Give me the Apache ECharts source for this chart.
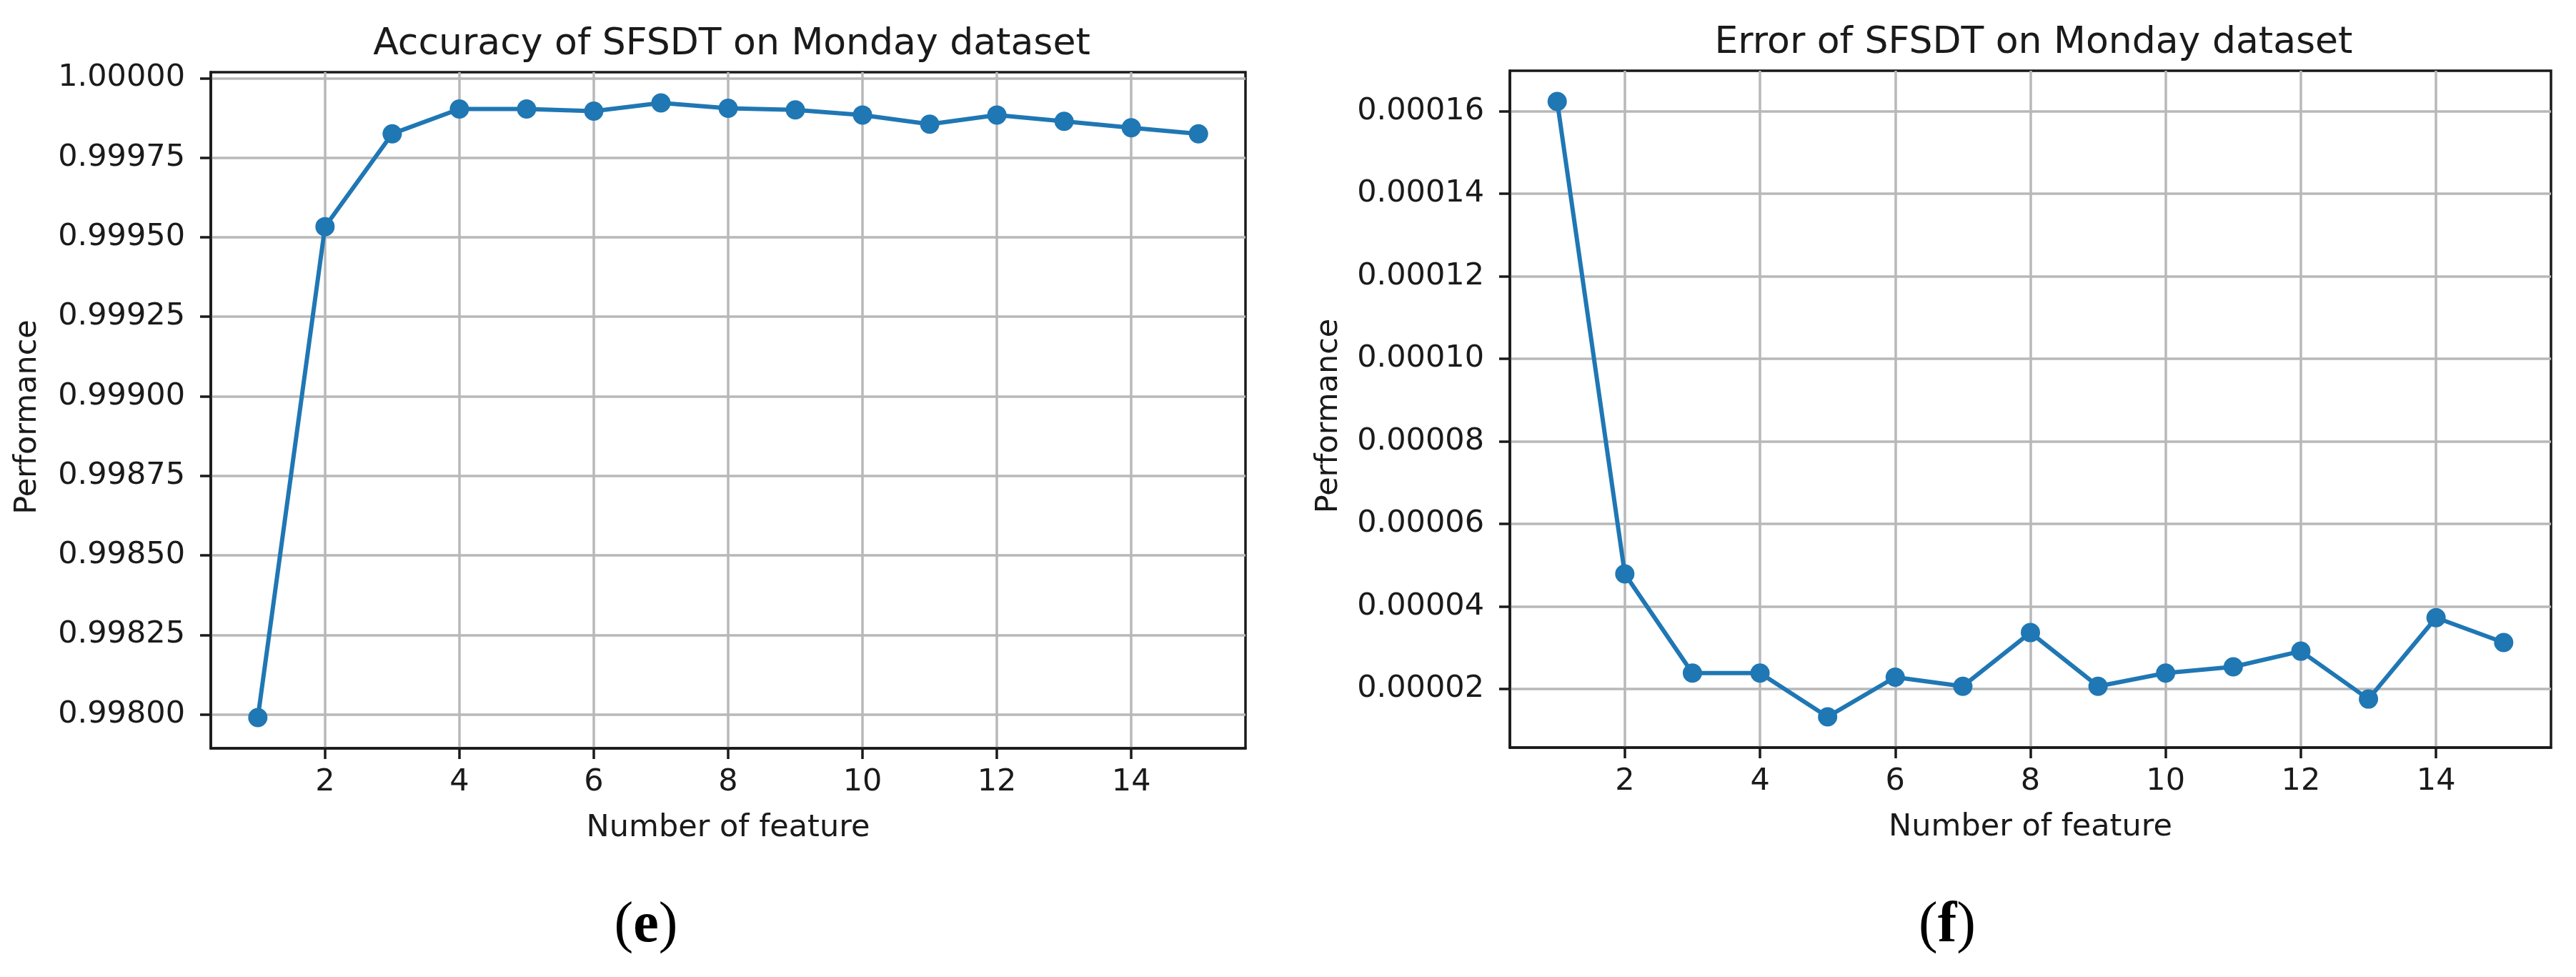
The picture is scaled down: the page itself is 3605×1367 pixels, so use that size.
<!DOCTYPE html>
<html>
<head>
<meta charset="utf-8">
<script src="https://cdn.jsdelivr.net/npm/echarts@6/dist/echarts.min.js"></script>
<style>
html,body{margin:0;padding:0;background:#ffffff;}
#chart{width:3605px;height:1367px;}
</style>
</head>
<body>
<div id="chart"></div>
<script>
// ---- data ----
const features = [1, 2, 3, 4, 5, 6, 7, 8, 9, 10, 11, 12, 13, 14, 15];
const accuracy = [0.99799, 0.999533, 0.999825, 0.999903, 0.999903, 0.999896, 0.999922, 0.999905, 0.999900, 0.999884, 0.999855, 0.999884, 0.999864, 0.999844, 0.999825];
const errorRate = [0.0001623, 0.0000479, 0.0000239, 0.0000239, 0.0000133, 0.0000229, 0.0000207, 0.0000337, 0.0000207, 0.0000239, 0.0000254, 0.0000292, 0.0000176, 0.0000373, 0.0000313];
const accTicks = [0.998, 0.99825, 0.9985, 0.99875, 0.999, 0.99925, 0.9995, 0.99975, 1.0];
const errTicks = [0.00002, 0.00004, 0.00006, 0.00008, 0.00010, 0.00012, 0.00014, 0.00016];
const featureTicks = [2, 4, 6, 8, 10, 12, 14];
const titles = ['Accuracy of SFSDT on Monday dataset', 'Error of SFSDT on Monday dataset'];
const xName = 'Number of feature';
const yName = 'Performance';
const panelLetters = ['e', 'f'];

// matplotlib-like 5% autoscale margins
function limits(arr) {
  const lo = Math.min(...arr), hi = Math.max(...arr), r = hi - lo;
  return [lo - 0.05 * r, hi + 0.05 * r];
}
const xLim = limits(features);
const accLim = limits(accuracy);
const errLim = limits(errorRate);

const FONT = 'DejaVu Sans';
const INK = '#1a1a1a';
const BLUE = '#1f77b4';

function xAxisOf(gi) {
  return {
    type: 'value', gridIndex: gi, min: xLim[0], max: xLim[1],
    name: xName, nameLocation: 'middle', nameGap: 90,
    nameTextStyle: {fontFamily: FONT, fontSize: 43, color: INK, lineHeight: 43},
    axisLine: {show: true, onZero: false, lineStyle: {color: INK, width: 3.5}},
    axisTick: {show: true, length: 15, inside: false, lineStyle: {color: INK, width: 3.5}, customValues: featureTicks},
    axisLabel: {show: true, margin: 26, fontFamily: FONT, fontSize: 43, color: INK, lineHeight: 43, customValues: featureTicks,
      formatter: v => String(Math.round(v))},
    splitLine: {show: true, lineStyle: {color: '#b8b8b8', width: 3.5}, customValues: featureTicks}
  };
}
function yAxisOf(gi, lim, ticks, gap) {
  return {
    type: 'value', gridIndex: gi, min: lim[0], max: lim[1], scale: true,
    name: yName, nameLocation: 'middle', nameGap: gap, nameRotate: 90,
    nameTextStyle: {fontFamily: FONT, fontSize: 43, color: INK, lineHeight: 43, padding: [0, 19, 0, 0]},
    axisLine: {show: true, onZero: false, lineStyle: {color: INK, width: 3.5}},
    axisTick: {show: true, length: 15, inside: false, lineStyle: {color: INK, width: 3.5}, customValues: ticks},
    axisLabel: {show: true, margin: 36, fontFamily: FONT, fontSize: 43, color: INK, lineHeight: 43, customValues: ticks,
      formatter: v => v.toFixed(5)},
    splitLine: {show: true, lineStyle: {color: '#b8b8b8', width: 3.5}, customValues: ticks}
  };
}
function seriesOf(gi, vals) {
  return {
    type: 'line', xAxisIndex: gi, yAxisIndex: gi,
    data: features.map((f, i) => [f, vals[i]]),
    symbol: 'circle', symbolSize: 27, showSymbol: true,
    lineStyle: {color: BLUE, width: 6},
    itemStyle: {color: BLUE, borderWidth: 0},
    emphasis: {disabled: true}, animation: false, z: 5
  };
}

const chart = echarts.init(document.getElementById('chart'), null, {renderer: 'canvas'});
chart.setOption({
  backgroundColor: '#ffffff',
  animation: false,
  title: [
    {text: titles[0], left: 1019, top: 31, textAlign: 'center',
      textStyle: {fontFamily: FONT, fontSize: 52, fontWeight: 'normal', color: INK, lineHeight: 52}},
    {text: titles[1], left: 2841, top: 29, textAlign: 'center',
      textStyle: {fontFamily: FONT, fontSize: 52, fontWeight: 'normal', color: INK, lineHeight: 52}},
    {text: '({b|' + panelLetters[0] + '})', left: 899, top: 1251, textAlign: 'center',
      textStyle: {fontFamily: 'Liberation Serif', fontSize: 80, fontWeight: 'normal', color: '#000', lineHeight: 80,
        rich: {b: {fontFamily: 'Liberation Serif', fontSize: 80, fontWeight: 'bold', color: '#000', lineHeight: 80}}}},
    {text: '({b|' + panelLetters[1] + '})', left: 2720, top: 1251, textAlign: 'center',
      textStyle: {fontFamily: 'Liberation Serif', fontSize: 80, fontWeight: 'normal', color: '#000', lineHeight: 80,
        rich: {b: {fontFamily: 'Liberation Serif', fontSize: 80, fontWeight: 'bold', color: '#000', lineHeight: 80}}}}
  ],
  grid: [
    {left: 295, top: 101, width: 1448, height: 946, show: true, borderColor: INK, borderWidth: 3.5, backgroundColor: 'transparent', containLabel: false},
    {left: 2113, top: 99, width: 1457, height: 947, show: true, borderColor: INK, borderWidth: 3.5, backgroundColor: 'transparent', containLabel: false}
  ],
  xAxis: [xAxisOf(0), xAxisOf(1)],
  yAxis: [yAxisOf(0, accLim, accTicks, 235), yAxisOf(1, errLim, errTicks, 232)],
  series: [seriesOf(0, accuracy), seriesOf(1, errorRate)]
});
</script>
</body>
</html>
